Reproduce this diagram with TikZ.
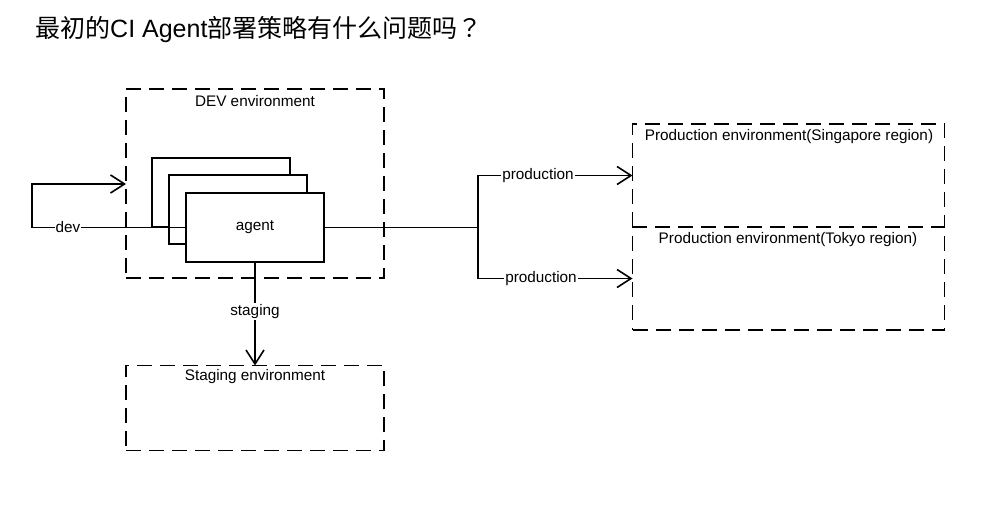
\documentclass[tikz,border=0pt]{standalone}
\usepackage{fontspec}
\setmainfont{Liberation Sans}
\newfontfamily\cjk{Noto Sans CJK SC}
\newfontfamily\cjkjp{Noto Sans CJK JP}
\usetikzlibrary{arrows.meta}
\begin{document}
\begin{tikzpicture}[x=1pt,y=-1pt,
  dashline/.style={line width=1.7pt, dash pattern=on 15pt off 8pt},
  envbox/.style={draw, dashline, outer sep=0pt, inner sep=0pt},
  agentbox/.style={draw, line width=1.7pt, fill=white, minimum width=138pt, minimum height=69pt, outer sep=0pt, inner sep=0pt},
  conn/.style={line width=1.6pt},
  arr/.style={conn, -{Straight Barb[length=14pt,width=18pt,line width=1.6pt]}},
  lbl/.style={fill=white, inner sep=1pt, font=\fontsize{15.3}{18}\selectfont},
  envlbl/.style={inner sep=0pt, font=\fontsize{15.3}{18}\selectfont}]
\useasboundingbox (0,0) rectangle (983,526);

% title
\node[anchor=west, inner sep=0pt, font=\fontsize{25}{29}\selectfont] (title) at (35,30)
  {{\cjk 最初的}CI Agent{\cjk 部署策略有什么问题吗}{\cjkjp ？}};

% environment boxes
\node[envbox, minimum width=258pt, minimum height=189pt] (dev) at (255,183.5) {};
\node[envbox, minimum width=258pt, minimum height=85pt] (stg) at (255,408) {};
\node[outer sep=0pt, inner sep=0pt, minimum width=312pt, minimum height=103pt] (sg) at (788.5,175.5) {};
\node[envbox, minimum width=312pt, minimum height=103pt] (tk) at (788.5,278.5) {};
\draw[dashline] (sg.south west) -- (sg.north west) -- (sg.north east) -- (sg.south east);

\node[envlbl] (devl) at (255,101) {DEV environment};
\node[envlbl] (stgl) at (255,377) {Staging environment};
\node[envlbl] (sgl) at (789,136.5) {Production environment(Singapore region)};
\node[envlbl] (tkl) at (788,239.5) {Production environment(Tokyo region)};

% agent stack
\node[agentbox] (back) at (221,192.5) {};
\node[agentbox] (mid) at (238,209.5) {};
\node[agentbox, font=\fontsize{15.3}{18}\selectfont] (agent) at (255,227.5) {agent};

% connectors
\coordinate (d1) at (32,227.5);
\coordinate (d2) at (32,184);
\coordinate (br) at (478,227.5);
\draw[arr] (agent.west) -- (d1) -- (d2) -- (dev.west |- d2);
\draw[arr] (agent.east) -- (br) |- (sg.west);
\draw[arr] (br) |- (tk.west);
\draw[arr] (agent.south) -- (stg.north);

% connector labels
\node[lbl] (devlab) at (68,227.5) {dev};
\node[lbl] (p1) at (538,175.5) {production};
\node[lbl] (p2) at (541,278.5) {production};
\node[lbl] (stglab) at (255,311.5) {staging};
\end{tikzpicture}
\end{document}
